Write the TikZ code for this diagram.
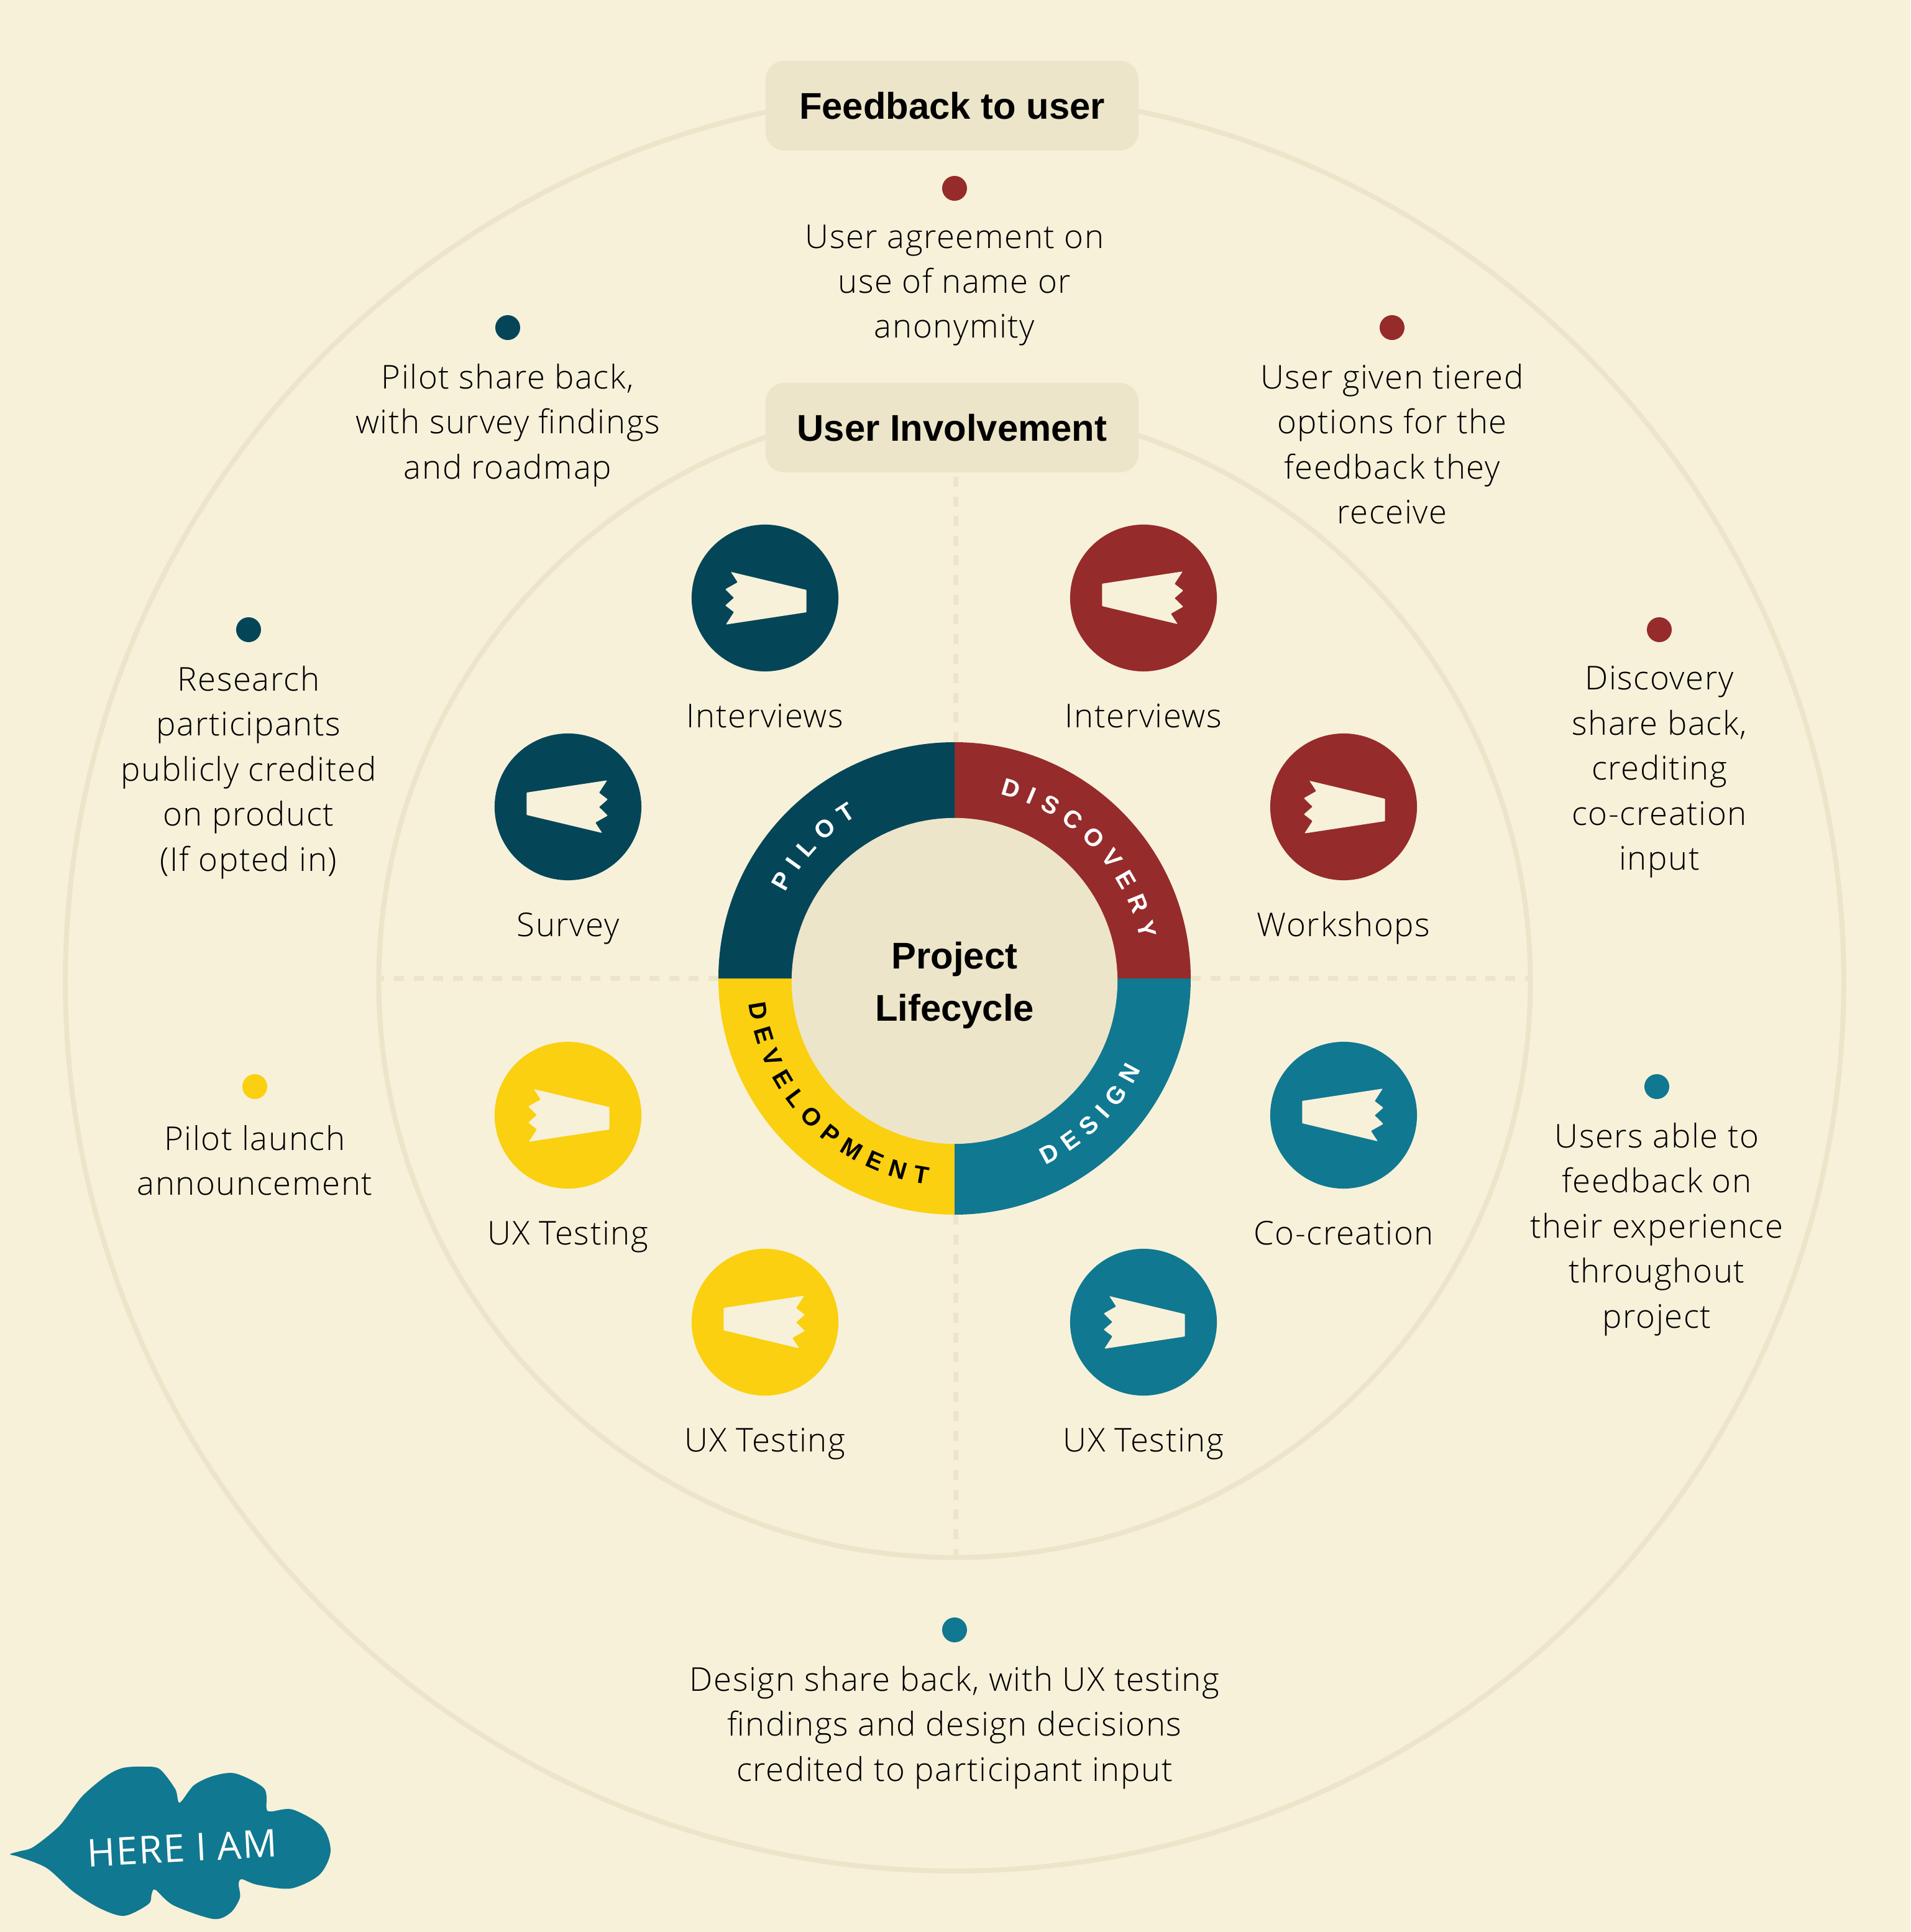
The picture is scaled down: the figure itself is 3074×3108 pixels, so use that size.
\documentclass[tikz,border=0pt]{standalone}
\usepackage{fontspec}
\usepackage{xcolor}
\usepackage{tikz}
\usetikzlibrary{positioning, decorations.text}
\setmainfont{Open Sans}[UprightFont=* Light, LetterSpace=3]
\newfontfamily\headfont{Liberation Sans}[UprightFont=* Bold]
\newfontfamily\ringfont{Liberation Sans}[UprightFont=* Bold]
\newfontfamily\handfont{Open Sans}[LetterSpace=3]
\definecolor{pagebg}{HTML}{F7F1DA}
\definecolor{sandtone}{HTML}{ECE5C9}
\definecolor{pilotcol}{HTML}{044658}
\definecolor{discoverycol}{HTML}{962B2B}
\definecolor{designcol}{HTML}{107890}
\definecolor{developcol}{HTML}{FAD010}

\begin{document}
\begin{tikzpicture}[
    x=0.01cm, y=0.01cm,
    loopline/.style={circle, draw=sandtone, line width=0.08cm, inner sep=0pt, outer sep=0pt},
    spoke/.style={draw=sandtone, line width=0.08cm, dash pattern=on 0.16cm off 0.156cm},
    headbox/.style={rectangle, rounded corners=0.3cm, minimum width=6cm, minimum height=1.44cm, fill=sandtone, font=\fontsize{17}{22}\headfont},
    hub/.style={circle, fill=sandtone, minimum size=5.24cm, inner sep=0pt},
    hubtext/.style={align=center, inner sep=0pt, font=\fontsize{17}{24}\headfont},
    toolbadge/.style={circle, minimum size=2.36cm, inner sep=0pt},
    dot/.style={circle, minimum size=0.4cm, inner sep=0pt},
    bodytext/.style={align=center, inner sep=0pt, font=\fontsize{15}{20.6}\selectfont},
    feedbacktext/.style={bodytext, below=0.37cm of #1},
    toollabel/.style={bodytext, text height=0.37cm, text depth=0.1cm, below=0.52cm of #1},
    ringword/.style={decorate, decoration={text along path, text align=fit to path, text={#1}}},
    flag/.pic={\fill[pagebg, rounded corners=0.01cm] (-66.7,23) -- (63,42.7) -- (50,22.7) -- (64,12) -- (50,-0.3) -- (64,-14) -- (44,-25.3) -- (55,-42) -- (-66.7,-13) -- cycle;}
]
\useasboundingbox (-1536,-1534) rectangle (1538,1574);
\fill[pagebg] (-1536,-1534) rectangle (1538,1574);

% Rings and spokes
\node (feedbackring) [loopline, minimum size=28.6cm] at (0,-5) {};
\node (involvering) [loopline, minimum size=18.52cm] at (0,-5) {};
\coordinate (ringtop) at (2,380);
\coordinate (ringright) at (380,0);
\coordinate (ringbottom) at (2,-380);
\coordinate (ringleft) at (-380,0);
\draw [spoke] (ringright) -- (ringright -| involvering.east);
\draw [spoke] (ringleft) -- (ringleft -| involvering.west);

% Headings
\node (feedbackhead) [headbox] at (-4,1404) {Feedback to user};
\node (involvehead) [headbox] at (-4,886) {User Involvement};
\draw [spoke] (ringtop) -- (ringtop |- involvehead.south);
\draw [spoke] (ringbottom) -- (ringbottom |- involvering.south);

% Lifecycle ring
\fill[discoverycol] (90:380) arc (90:0:380) -- (0:250) arc (0:90:250) -- cycle;
\fill[designcol] (0:380) arc (0:-90:380) -- (-90:250) arc (-90:0:250) -- cycle;
\fill[developcol] (-90:380) arc (-90:-180:380) -- (180:250) arc (180:270:250) -- cycle;
\fill[pilotcol] (180:380) arc (180:90:380) -- (90:250) arc (90:180:250) -- cycle;
\node (lifecycle) [hub] at (0,-4) {};
\node (lifecycletext) [hubtext] at (0,-11) {Project\\Lifecycle};
\path [ringword={|\fontsize{11.2}{14}\ringfont\color{white}|DISCOVERY}] (76:305) arc (76:12:305);
\path [ringword={|\fontsize{11.2}{14}\ringfont\color{white}|PILOT}] (153:305) arc (153:121:305);
\path [ringword={|\fontsize{11.2}{14}\ringfont\color{white}|DESIGN}] (-64:334) arc (-64:-26:334);
\path [ringword={|\fontsize{11.2}{14}\ringfont\color{black}|DEVELOPMENT}] (187:334) arc (187:262.5:334);

% Discovery tools
\node (discoveryint) [toolbadge, fill=discoverycol] at (304,612) {};
\pic at (discoveryint) {flag};
\node (discoveryintlabel) [toollabel=discoveryint] {Interviews};
\node (workshops) [toolbadge, fill=discoverycol] at (626,276) {};
\pic [rotate=180] at (workshops) {flag};
\node (workshopslabel) [toollabel=workshops] {Workshops};

% Design tools
\node (cocreation) [toolbadge, fill=designcol] at (626,-220) {};
\pic at (cocreation) {flag};
\node (cocreationlabel) [toollabel=cocreation] {Co-creation};
\node (designux) [toolbadge, fill=designcol] at (304,-553) {};
\pic [rotate=180] at (designux) {flag};
\node (designuxlabel) [toollabel=designux] {UX Testing};

% Development tools
\node (developux) [toolbadge, fill=developcol] at (-305,-553) {};
\pic at (developux) {flag};
\node (developuxlabel) [toollabel=developux] {UX Testing};
\node (developuxb) [toolbadge, fill=developcol] at (-622,-220) {};
\pic [rotate=180] at (developuxb) {flag};
\node (developuxblabel) [toollabel=developuxb] {UX Testing};

% Pilot tools
\node (survey) [toolbadge, fill=pilotcol] at (-622,276) {};
\pic at (survey) {flag};
\node (surveylabel) [toollabel=survey] {Survey};
\node (pilotint) [toolbadge, fill=pilotcol] at (-305,612) {};
\pic [rotate=180] at (pilotint) {flag};
\node (pilotintlabel) [toollabel=pilotint] {Interviews};

% Feedback items
\node (dotagree) [dot, fill=discoverycol] at (0,1271) {};
\node (agreetext) [feedbacktext=dotagree] {User agreement on\\use of name or\\anonymity};
\node (dottiers) [dot, fill=discoverycol] at (704,1047) {};
\node (tierstext) [feedbacktext=dottiers] {User given tiered\\options for the\\feedback they\\receive};
\node (dotdiscovery) [dot, fill=discoverycol] at (1134,561) {};
\node (discoverytext) [feedbacktext=dotdiscovery] {Discovery\\share back,\\crediting\\co-creation\\input};
\node (dotusers) [dot, fill=designcol] at (1130,-174) {};
\node (userstext) [feedbacktext=dotusers] {Users able to\\feedback on\\their experience\\throughout\\project};
\node (dotdesign) [dot, fill=designcol] at (0,-1048) {};
\node (designtext) [feedbacktext=dotdesign] {Design share back, with UX testing\\findings and design decisions\\credited to participant input};
\node (dotlaunch) [dot, fill=developcol] at (-1126,-174) {};
\node (launchtext) [bodytext, below=0.41cm of dotlaunch] {Pilot launch\\announcement};
\node (dotcredit) [dot, fill=pilotcol] at (-1136,561) {};
\node (credittext) [feedbacktext=dotcredit] {Research\\participants\\publicly credited\\on product\\(If opted in)};
\node (dotpilot) [dot, fill=pilotcol] at (-719,1047) {};
\node (pilottext) [feedbacktext=dotpilot] {Pilot share back,\\with survey findings\\and roadmap};

% Logo
\begin{scope}[shift={(-1536,-1534)}]
\fill[designcol] plot [smooth cycle, tension=0.5] coordinates {(16,125) (32,130) (54,137) (96,171) (132,218) (171,251) (198,264) (232,266) (257,262) (282,230) (289,208) (312,236) (343,251) (379,255) (425,231) (429,198) (437,194) (471,197) (518,170) (532,130) (514,92) (468,70) (414,76) (389,85) (384,77) (386,55) (371,31) (343,21) (279,43) (250,68) (244,61) (239,45) (200,26) (161,38) (118,65) (75,103) (30,121)};
\node (logotext) [rotate=3, text=white, font=\fontsize{17.5}{22}\handfont] at (293,135) {HERE I AM};
\end{scope}
\end{tikzpicture}
\end{document}
